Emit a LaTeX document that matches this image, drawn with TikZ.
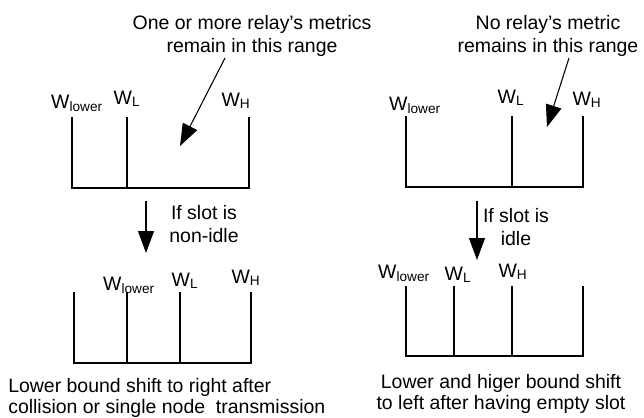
\documentclass[tikz,border=0pt]{standalone}
\usepackage{fontspec}
\setmainfont{Liberation Sans}
\usetikzlibrary{arrows.meta}

\newcommand{\wsub}[1]{W\textsubscript{#1}}

\begin{document}
\begin{tikzpicture}[x=0.75pt,y=0.75pt,yscale=-1,xscale=1,
  font={\fontsize{14.6}{17}\selectfont},
  bound/.style={line width=1pt},
  pointer/.style={line width=0.8pt,-{Triangle[length=16.5pt,width=12pt]}},
  wlabel/.style={anchor=base,inner sep=0pt},
  note/.style={inner sep=0pt,align=center,anchor=north},
  caption/.style={note,font={\fontsize{14.6}{15.8}\selectfont}}]
%set diagram size 644 x 418
\useasboundingbox (0,0) rectangle (644,418);

%Straight Lines [top left range]
\draw [bound] (72,117) -- (72,188) -- (249,188) -- (249,117) ;
\draw [bound] (127,117) -- (127,188) ;

%Straight Lines [top right range]
\draw [bound] (406,116) -- (406,187) -- (583,187) -- (583,116) ;
\draw [bound] (512,116) -- (512,187) ;

%Straight Lines [bottom left range]
\draw [bound] (74,292) -- (74,363) -- (251,363) -- (251,292) ;
\draw [bound] (127,292) -- (127,363) ;
\draw [bound] (180,292) -- (180,363) ;

%Straight Lines [bottom right range]
\draw [bound] (406,286) -- (406,356) -- (583,356) -- (583,286) ;
\draw [bound] (454,286) -- (454,356) ;
\draw [bound] (512,286) -- (512,356) ;

% Text Node
\node [wlabel] (tlLow) at (77,108) {\wsub{lower}};
% Text Node
\node [wlabel] (tlL) at (127,104) {\wsub{L}};
% Text Node
\node [wlabel] (tlH) at (236,106) {\wsub{H}};
% Text Node
\node [wlabel] (trLow) at (415,110) {\wsub{lower}};
% Text Node
\node [wlabel] (trL) at (511,103) {\wsub{L}};
% Text Node
\node [wlabel] (trH) at (587,105) {\wsub{H}};
% Text Node
\node [wlabel] (blLow) at (129,290) {\wsub{lower}};
% Text Node
\node [wlabel] (blL) at (185,286) {\wsub{L}};
% Text Node
\node [wlabel] (blH) at (246,283) {\wsub{H}};
% Text Node
\node [wlabel] (brLow) at (404,278) {\wsub{lower}};
% Text Node
\node [wlabel] (brL) at (458,280) {\wsub{L}};
% Text Node
\node [wlabel] (brH) at (513,277) {\wsub{H}};

% Text Node
\node [note] (tlNote) at (252,15) {One or more relay’s metrics\\remain in this range};
% Text Node
\node [note] (trNote) at (548,15) {No relay’s metric\\remains in this range};
% Text Node
\node [note] (blCond) at (204,205) {If slot is\\non-idle};
% Text Node
\node [note] (brCond) at (516,208) {If slot is\\idle};
% Text Node
\node [caption,anchor=north west,align=left] (blCap) at (8,378) {Lower bound shift to right after\\collision or single node\ \ transmission};
% Text Node
\node [caption] (brCap) at (501,374) {Lower and higer bound shift\\to left after having empty slot};

%Arrows
\coordinate (tlTail) at (225,58);
\coordinate (tlTip) at (180,146);
\coordinate (trTail) at (569,58);
\coordinate (trTip) at (547,127);
\coordinate (blTail) at (146,201);
\coordinate (blTip) at (146,253);
\coordinate (brTail) at (477,201);
\coordinate (brTip) at (477,260);
\draw [pointer] (tlTail) -- (tlTip) ;
\draw [pointer] (trTail) -- (trTip) ;
\draw [pointer] (blTail) -- (blTip) ;
\draw [pointer] (brTail) -- (brTip) ;

\end{tikzpicture}
\end{document}
